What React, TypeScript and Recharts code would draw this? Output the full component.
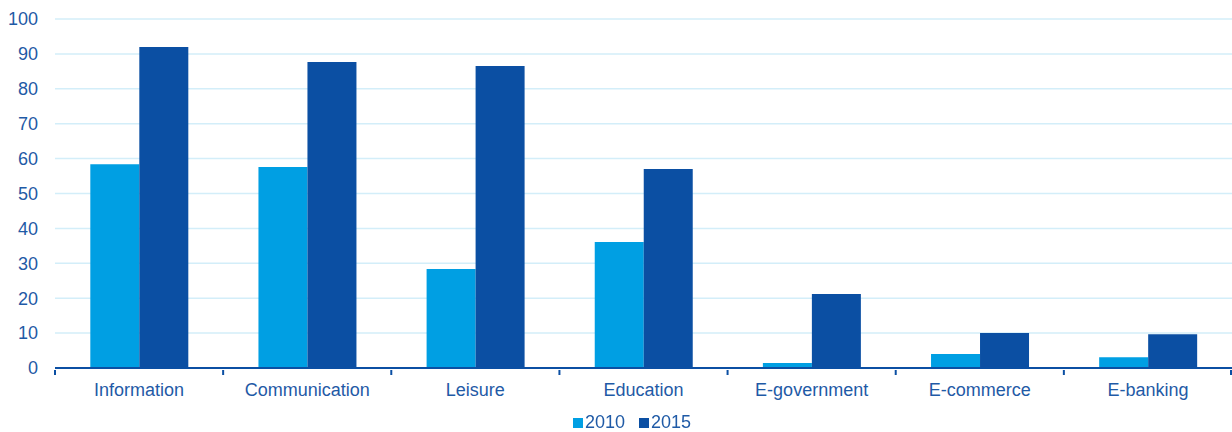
import { BarChart, Bar, XAxis, YAxis, CartesianGrid, Legend } from 'recharts'

const categories = ['Information', 'Communication', 'Leisure', 'Education', 'E-government', 'E-commerce', 'E-banking']
const values2010 = [58.4, 57.6, 28.4, 36.1, 1.4, 4, 3.1]
const values2015 = [92, 87.7, 86.5, 57, 21.2, 10, 9.7]
const yTicks = [0, 10, 20, 30, 40, 50, 60, 70, 80, 90, 100]

const data = categories.map((name, i) => ({ name, y2010: values2010[i], y2015: values2015[i] }))

const W = 1232
const H = 432
const LEFT = 55
const TEXT = '#1f5aa6'
const AXIS = '#0b4fa3'
const C2010 = '#009fe3'
const C2015 = '#0b4fa3'
const FONT = '"Liberation Sans", Arial, sans-serif'

const band = (W - LEFT) / categories.length

function CategoryTick(props: any) {
  const { x, y, payload, index } = props
  const left = x - band / 2
  return (
    <g>
      <line x1={left} x2={left} y1={y - 6} y2={y - 1} stroke={AXIS} strokeWidth={2} />
      {index === categories.length - 1 && (
        <line x1={x + band / 2 - 1} x2={x + band / 2 - 1} y1={y - 6} y2={y - 1} stroke={AXIS} strokeWidth={2} />
      )}
      <text x={x} y={y + 20} textAnchor="middle" fill={TEXT} fontSize={18} fontFamily={FONT}>
        {payload.value}
      </text>
    </g>
  )
}

function LegendContent() {
  const items = [
    { label: '2010', color: C2010 },
    { label: '2015', color: C2015 },
  ]
  return (
    <div style={{ display: 'flex', justifyContent: 'center', gap: 14, fontFamily: FONT, fontSize: 18, color: TEXT, paddingLeft: 32, paddingTop: 6 }}>
      {items.map((it) => (
        <div key={it.label} style={{ display: 'flex', alignItems: 'center', gap: 2 }}>
          <div style={{ width: 10, height: 10, background: it.color }} />
          <span>{it.label}</span>
        </div>
      ))}
    </div>
  )
}

export default function App() {
  return (
    <div style={{ position: 'fixed', left: 0, top: 0, width: W, height: H, background: '#fff' }}>
      <BarChart
        width={W}
        height={H}
        data={data}
        margin={{ top: 19, right: 0, left: 0, bottom: 2 }}
        barCategoryGap="21%"
        barGap={0}
      >
        <CartesianGrid horizontal vertical={false} stroke="#d3eef9" strokeWidth={1.5} />
        <XAxis
          dataKey="name"
          axisLine={{ stroke: AXIS, strokeWidth: 2 }}
          tickLine={false}
          tick={<CategoryTick />}
          interval={0}
          height={38}
        />
        <YAxis
          domain={[0, 100]}
          ticks={yTicks}
          width={LEFT}
          axisLine={false}
          tickLine={false}
          tickSize={0}
          tickMargin={17}
          tick={{ fill: TEXT, fontSize: 18, fontFamily: FONT }}
        />
        <Legend verticalAlign="bottom" height={24} content={<LegendContent />} />
        <Bar dataKey="y2010" name="2010" fill={C2010} isAnimationActive={false} />
        <Bar dataKey="y2015" name="2015" fill={C2015} isAnimationActive={false} />
      </BarChart>
    </div>
  )
}
